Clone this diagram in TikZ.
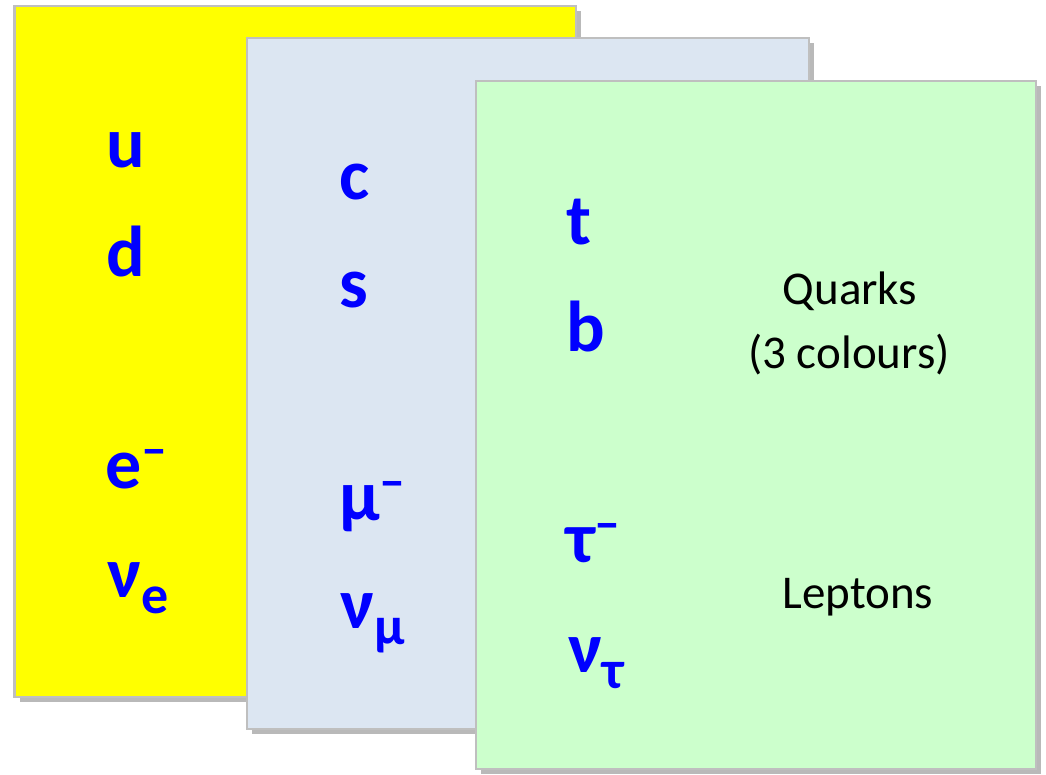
\documentclass[tikz,border=0pt]{standalone}
\usepackage{fontspec}
\setmainfont{Carlito}
\usetikzlibrary{shadows}
\definecolor{genyellow}{HTML}{FFFF00}
\definecolor{genblue}{HTML}{DCE6F2}
\definecolor{gengreen}{HTML}{CCFFCC}
\definecolor{genedge}{HTML}{BFBFBF}
\newcommand{\lowsub}[1]{\raisebox{-16pt}{\fontsize{54}{54}\selectfont #1}}
\newcommand{\upmns}{\raisebox{22pt}{\fontsize{52}{52}\selectfont –}}

\begin{document}
\begin{tikzpicture}[x=1pt, y=-1pt,
    panel/.style={draw=genedge, line width=2.5pt,
      drop shadow={shadow xshift=5pt, shadow yshift=-5pt, fill=black!50, opacity=0.55}},
    ptcl/.style={anchor=base west, inner sep=0pt, text=blue,
      font=\fontsize{72}{72}\selectfont\bfseries},
    lbl/.style={anchor=base, inner sep=0pt, text=black,
      font=\fontsize{47}{47}\selectfont}]
\useasboundingbox (0,0) rectangle (1046,775);
% three generations
\draw[panel, fill=genyellow] (14.5,6) rectangle (576,697);
\draw[panel, fill=genblue] (247,38) rectangle (809,729);
\draw[panel, fill=gengreen] (476,81) rectangle (1036,769);
% first generation
\node[ptcl] (up) at (106,168) {u};
\node[ptcl] (down) at (106,277) {d};
\node[ptcl] (elec) at (105,488) {e\upmns};
\node[ptcl] (nue) at (107,597) {ν\lowsub{e}};
% second generation
\node[ptcl] (charm) at (339,200) {c};
\node[ptcl] (strange) at (339,308) {s};
\node[ptcl] (muon) at (339,520) {μ\upmns};
\node[ptcl] (numu) at (340,628) {ν\lowsub{μ}};
% third generation
\node[ptcl] (top) at (566,245) {t};
\node[ptcl] (bottom) at (566,352) {b};
\node[ptcl] (tau) at (566,562) {τ\upmns};
\node[ptcl] (nutau) at (568,672) {ν\lowsub{τ}};
% labels
\node[lbl] (quarks) at (850,305) {Quarks};
\node[lbl] (colours) at (849,368) {(3 colours)};
\node[lbl] (leptons) at (858,608) {Leptons};
\end{tikzpicture}
\end{document}
